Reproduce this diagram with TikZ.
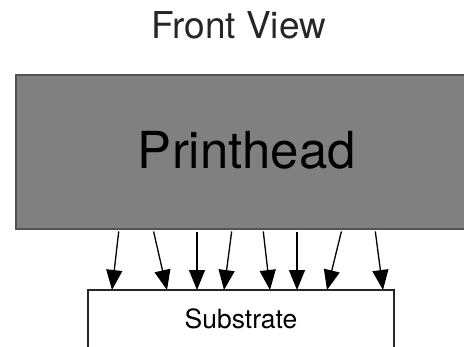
\documentclass[tikz,border=0pt]{standalone}
\usepackage{fontspec}
\setmainfont{TeX Gyre Heros}
\usetikzlibrary{arrows.meta}
\tikzset{
  jet/.style={line width=1.3pt,arrows={-Triangle[length=20pt,width=16pt]},shorten <=2.5pt}
}
\begin{document}
\begin{tikzpicture}[x=1pt,y=-1pt,
  headbox/.style={draw=black!68,fill=black!50,line width=1.6pt,outer sep=0pt,
    inner xsep=0pt,inner ysep=0pt,minimum width=462pt,
    text height=93pt,text depth=61pt,anchor=north west,font=\fontsize{51}{51}\selectfont},
  subbox/.style={draw=black!85,fill=white,line width=1.4pt,outer sep=0pt,
    inner xsep=0pt,inner ysep=0pt,minimum width=306pt,
    text height=38pt,text depth=60pt,anchor=north west,font=\fontsize{26.5}{26.5}\selectfont},
  titletext/.style={anchor=base,inner sep=0pt,font=\fontsize{37}{37}\selectfont,text=black!85}
]
\useasboundingbox (0,0) rectangle (464,346);
\node[titletext] (title) at (238.5,38.5) {Front View};
\node[headbox] (ph) at (16,75) {Printhead};
\node[subbox] (sub) at (88,290) {Substrate};
\draw[jet] ([xshift=103pt]ph.south west) -- ([xshift=24pt]sub.north west);
\draw[jet] ([xshift=137pt]ph.south west) -- ([xshift=79pt]sub.north west);
\draw[jet] ([xshift=181pt]ph.south west) -- ([xshift=109pt]sub.north west);
\draw[jet] ([xshift=216pt]ph.south west) -- ([xshift=136pt]sub.north west);
\draw[jet] ([xshift=247pt]ph.south west) -- ([xshift=182pt]sub.north west);
\draw[jet] ([xshift=281pt]ph.south west) -- ([xshift=209pt]sub.north west);
\draw[jet] ([xshift=326pt]ph.south west) -- ([xshift=239pt]sub.north west);
\draw[jet] ([xshift=359pt]ph.south west) -- ([xshift=295pt]sub.north west);
\end{tikzpicture}
\end{document}
